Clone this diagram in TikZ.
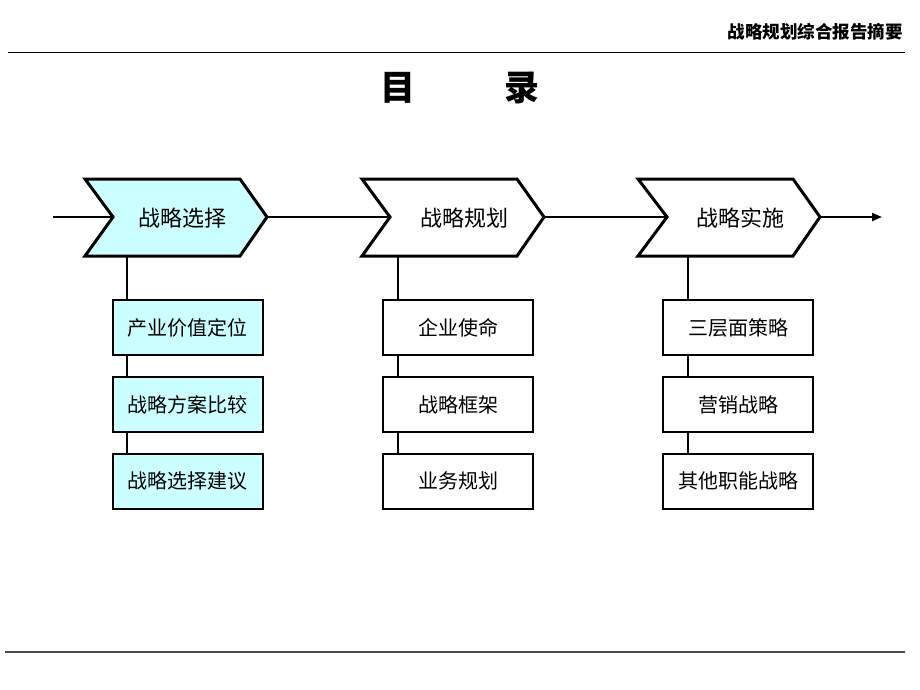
\documentclass[tikz,border=0pt]{standalone}
\usepackage{fontspec}
\newfontfamily\cjk{Noto Sans CJK SC}
\usetikzlibrary{arrows.meta}
\definecolor{boxcyan}{HTML}{CCFFFF}
\begin{document}
\begin{tikzpicture}[x=1pt,y=-1pt,
  chev/.style={draw=black,line width=3pt,line join=miter},
  chevtext/.style={font=\cjk\fontsize{22}{22}\selectfont,inner sep=0pt},
  item/.style={draw=black,line width=2pt,fill=#1,minimum width=150pt,minimum height=55pt,inner sep=0pt,font=\cjk\fontsize{20}{20}\selectfont},
  conn/.style={draw=black,line width=2pt},
  rule/.style={draw=black,line width=1pt}]
\useasboundingbox (0,0) rectangle (920,690);
\fill[white] (0,0) rectangle (920,690);
% header
\coordinate (hl) at (8,53);
\coordinate (hr) at (905,53);
\draw[rule] (hl) -- (hr);
\node[anchor=east,font=\cjk\bfseries\fontsize{17.5}{17.5}\selectfont,inner sep=0pt] (header) at (903,32) {战略规划综合报告摘要};
\coordinate (fl) at (5,652);
\coordinate (fr) at (905,652);
\draw[draw=black!70,line width=1.3pt] (fl) -- (fr);
% title
\node[font=\cjk\bfseries\fontsize{35}{35}\selectfont,inner sep=0pt] (title) at (460,88) {目\hspace{89pt}录};
% chevrons
\path[chev,fill=boxcyan] (85,179) -- (240,179) -- (267,217) -- (240,256) -- (85,256) -- (113,217) -- cycle;
\path[chev,fill=white] (362,179) -- (517,179) -- (544,217) -- (517,256) -- (362,256) -- (390,217) -- cycle;
\path[chev,fill=white] (638,179) -- (793,179) -- (820,217) -- (793,256) -- (638,256) -- (667,217) -- cycle;
\coordinate (c1in) at (113,217); \coordinate (c1out) at (267,217);
\coordinate (c2in) at (390,217); \coordinate (c2out) at (544,217);
\coordinate (c3in) at (667,217); \coordinate (c3out) at (820,217);
\node[chevtext] (c1) at (182,218) {战略选择};
\node[chevtext] (c2) at (464,218) {战略规划};
\node[chevtext] (c3) at (740,218) {战略实施};
\coordinate (start) at (53,217);
\coordinate (end) at (882,217);
\draw[conn] (start) -- (c1in);
\draw[conn] (c1out) -- (c2in);
\draw[conn] (c2out) -- (c3in);
\draw[conn,-{Triangle[length=10pt,width=8pt]}] (c3out) -- (end);
% boxes
\node[item=boxcyan] (b11) at (187.5,327.5) {产业价值定位};
\node[item=boxcyan] (b12) at (187.5,404.5) {战略方案比较};
\node[item=boxcyan] (b13) at (187.5,481) {战略选择建议};
\node[item=white] (b21) at (458,327.5) {企业使命};
\node[item=white] (b22) at (458,404.5) {战略框架};
\node[item=white] (b23) at (458,481) {业务规划};
\node[item=white] (b31) at (738,327.5) {三层面策略};
\node[item=white] (b32) at (738,404.5) {营销战略};
\node[item=white] (b33) at (738,481) {其他职能战略};
% vertical connectors
\coordinate (v1) at (127,257);
\coordinate (v2) at (398,257);
\coordinate (v3) at (688,257);
\draw[conn] (v1) -- (v1 |- b11.north);
\draw[conn] (b11.south -| v1) -- (b12.north -| v1);
\draw[conn] (b12.south -| v1) -- (b13.north -| v1);
\draw[conn] (v2) -- (v2 |- b21.north);
\draw[conn] (b21.south -| v2) -- (b22.north -| v2);
\draw[conn] (b22.south -| v2) -- (b23.north -| v2);
\draw[conn] (v3) -- (v3 |- b31.north);
\draw[conn] (b31.south -| v3) -- (b32.north -| v3);
\draw[conn] (b32.south -| v3) -- (b33.north -| v3);
\end{tikzpicture}
\end{document}
